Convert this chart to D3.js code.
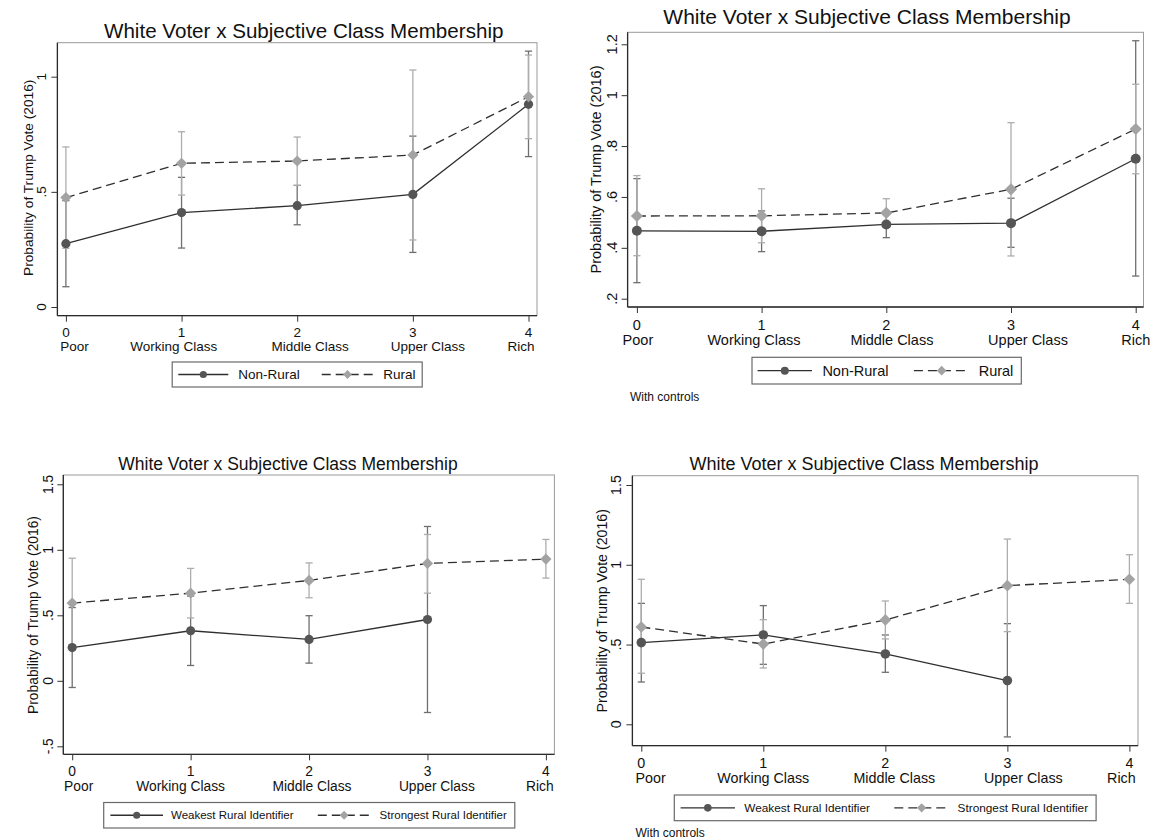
<!DOCTYPE html>
<html>
<head>
<meta charset="utf-8">
<script src="https://cdn.jsdelivr.net/npm/d3@7"></script>
<style>
  html, body { margin: 0; padding: 0; background: #fff; }
  svg { display: block; }
  text { font-family: "Liberation Sans", Arial, Helvetica, sans-serif; fill: #111; }
</style>
</head>
<body>
<svg id="chart" width="1155" height="840"></svg>
<script>
// ---- categories ----
const classCodes = [0, 1, 2, 3, 4];
const classNames = ["Poor", "Working Class", "Middle Class", "Upper Class", "Rich"];
const chartTitle = "White Voter x Subjective Class Membership";
const yAxisTitle = "Probability of Trump Vote (2016)";

// ---- panel 1: rural vs non-rural, no controls ----
const p1NonRural   = [0.275, 0.410, 0.440, 0.489, 0.880];
const p1NonRuralLo = [0.088, 0.256, 0.357, 0.237, 0.653];
const p1NonRuralHi = [0.462, 0.563, 0.528, 0.742, 1.111];
const p1Rural      = [0.475, 0.624, 0.634, 0.660, 0.913];
const p1RuralLo    = [0.255, 0.486, 0.528, 0.291, 0.731];
const p1RuralHi    = [0.695, 0.761, 0.738, 1.029, 1.094];
const p1YTicks = [0, 0.5, 1];

// ---- panel 2: rural vs non-rural, with controls ----
const p2NonRural   = [0.467, 0.465, 0.492, 0.497, 0.750];
const p2NonRuralLo = [0.263, 0.385, 0.440, 0.402, 0.289];
const p2NonRuralHi = [0.672, 0.545, 0.544, 0.595, 1.214];
const p2Rural      = [0.525, 0.526, 0.537, 0.630, 0.867];
const p2RuralLo    = [0.369, 0.420, 0.481, 0.368, 0.691];
const p2RuralHi    = [0.684, 0.632, 0.593, 0.892, 1.043];
const p2YTicks = [0.2, 0.4, 0.6, 0.8, 1, 1.2];

// ---- panel 3: rural identity strength, no controls ----
const p3Weakest     = [0.254, 0.382, 0.316, 0.468, null];
const p3WeakestLo   = [-0.051, 0.117, 0.135, -0.242, null];
const p3WeakestHi   = [0.559, 0.647, 0.497, 1.178, null];
const p3Strongest   = [0.593, 0.669, 0.766, 0.896, 0.929];
const p3StrongestLo = [0.250, 0.480, 0.634, 0.669, 0.784];
const p3StrongestHi = [0.936, 0.858, 0.900, 1.117, 1.079];
const p3YTicks = [-0.5, 0, 0.5, 1, 1.5];

// ---- panel 4: rural identity strength, with controls ----
const p4Weakest     = [0.512, 0.560, 0.441, 0.274, null];
const p4WeakestLo   = [0.265, 0.376, 0.326, -0.079, null];
const p4WeakestHi   = [0.758, 0.744, 0.560, 0.631, null];
const p4Strongest   = [0.610, 0.503, 0.654, 0.869, 0.909];
const p4StrongestLo = [0.320, 0.353, 0.535, 0.581, 0.758];
const p4StrongestHi = [0.909, 0.656, 0.773, 1.161, 1.063];
const p4YTicks = [0, 0.5, 1, 1.5];

// ---- series styling ----
const darkStyle  = { ci: "#6f6f6f", line: "#2f2f2f", marker: "#555555", shape: "circle", dash: null };
const lightStyle = { ci: "#adadad", line: "#2f2f2f", marker: "#a3a3a3", shape: "diamond", dash: "9,5" };

const svg = d3.select("#chart");

// Stata-style tick formatting: plain hyphen minus, no leading zero (".5", "-.5")
const fmtTick = v => {
  const s = String(+v.toFixed(3));
  return s.replace(/^0\./, ".").replace(/^-0\./, "-.");
};

function series(vals, lo, hi) {
  return classCodes.map((c, i) => ({ c, v: vals[i], lo: lo[i], hi: hi[i] }))
                   .filter(d => d.v !== null);
}

function drawMarker(g, shape, cx, cy, size, fill) {
  if (shape === "circle") {
    g.append("circle").attr("cx", cx).attr("cy", cy).attr("r", size).attr("fill", fill);
  } else {
    const s = size * 1.22;
    g.append("path")
      .attr("d", `M${cx},${cy - s}L${cx + s},${cy}L${cx},${cy + s}L${cx - s},${cy}Z`)
      .attr("fill", fill);
  }
}

function drawPanel(p) {
  const g = svg.append("g");
  const x = d3.scaleLinear().domain([0, 4]).range(p.xRange);
  const y = d3.scaleLinear().domain(p.yRef).range(p.yRefPx);

  // plot-region border
  g.append("rect")
    .attr("x", p.frame[0]).attr("y", p.frame[2])
    .attr("width", p.frame[1] - p.frame[0]).attr("height", p.frame[3] - p.frame[2])
    .attr("fill", "none").attr("stroke", "#9a9a9a").attr("stroke-width", 1);

  // y axis
  const yAxis = d3.axisLeft(y).tickValues(p.yTicks).tickSize(6).tickFormat("");
  const ya = g.append("g").attr("transform", `translate(${p.frame[0]},0)`).call(yAxis);
  ya.select(".domain").attr("d", `M0,${p.frame[2]}V${p.frame[3]}`).attr("stroke", "#2a2a2a").attr("stroke-width", 1.3);
  ya.selectAll(".tick line").attr("stroke", "#333").attr("stroke-width", 1);
  g.selectAll(".ytl").data(p.yTicks).enter().append("text")
    .attr("transform", d => `translate(${p.yLabelX},${y(d)}) rotate(-90)`)
    .attr("text-anchor", "middle")
    .attr("font-size", p.tickFont)
    .text(fmtTick);

  // x axis
  const xAxis = d3.axisBottom(x).tickValues(classCodes).tickSize(6).tickFormat("");
  const xa = g.append("g").attr("transform", `translate(0,${p.frame[3]})`).call(xAxis);
  xa.select(".domain").attr("d", `M${p.frame[0]},0H${p.frame[1]}`).attr("stroke", "#2a2a2a").attr("stroke-width", 1.3);
  xa.selectAll(".tick line").attr("stroke", "#333").attr("stroke-width", 1);
  classCodes.forEach((c, i) => {
    g.append("text").attr("x", x(c)).attr("y", p.numBase)
      .attr("text-anchor", "middle").attr("font-size", p.tickFont).text(c);
    g.append("text").attr("x", x(c) + p.nameShift[i]).attr("y", p.nameBase)
      .attr("text-anchor", "middle").attr("font-size", p.tickFont).text(classNames[i]);
  });

  // titles
  g.append("text").attr("x", p.title[0]).attr("y", p.title[1])
    .attr("text-anchor", "middle").attr("font-size", p.title[2]).text(chartTitle);
  g.append("text")
    .attr("transform", `translate(${p.yTitle[0]},${p.yTitle[1]}) rotate(-90)`)
    .attr("text-anchor", "middle").attr("font-size", p.yTitle[2]).text(yAxisTitle);

  // confidence intervals (capped spikes)
  const capW = 3.6;
  p.series.forEach(s => {
    s.data.forEach(d => {
      const cg = g.append("g").attr("stroke", s.style.ci).attr("stroke-width", 1.3);
      cg.append("line").attr("x1", x(d.c)).attr("x2", x(d.c)).attr("y1", y(d.lo)).attr("y2", y(d.hi));
      cg.append("line").attr("x1", x(d.c) - capW).attr("x2", x(d.c) + capW).attr("y1", y(d.lo)).attr("y2", y(d.lo));
      cg.append("line").attr("x1", x(d.c) - capW).attr("x2", x(d.c) + capW).attr("y1", y(d.hi)).attr("y2", y(d.hi));
    });
  });

  // connecting lines
  const line = d3.line().x(d => x(d.c)).y(d => y(d.v));
  p.series.forEach(s => {
    g.append("path").datum(s.data).attr("d", line)
      .attr("fill", "none").attr("stroke", s.style.line).attr("stroke-width", 1.3)
      .attr("stroke-dasharray", s.style.dash);
  });

  // point markers
  p.series.forEach(s => {
    s.data.forEach(d => drawMarker(g, s.style.shape, x(d.c), y(d.v), p.markerR, s.style.marker));
  });

  // legend
  const L = p.legend;
  g.append("rect").attr("x", L.box[0]).attr("y", L.box[2])
    .attr("width", L.box[1] - L.box[0]).attr("height", L.box[3] - L.box[2])
    .attr("fill", "#fff").attr("stroke", "#6a6a6a").attr("stroke-width", 1.2);
  const midY = (L.box[2] + L.box[3]) / 2;
  p.series.forEach((s, i) => {
    const it = L.items[i];
    g.append("line").attr("x1", it[0]).attr("x2", it[1]).attr("y1", midY).attr("y2", midY)
      .attr("stroke", s.style.line).attr("stroke-width", 1.3).attr("stroke-dasharray", s.style.dash);
    drawMarker(g, s.style.shape, (it[0] + it[1]) / 2, midY, L.markerR, s.style.marker);
    g.append("text").attr("x", it[2]).attr("y", L.base).attr("font-size", L.font).text(s.name);
  });

  if (p.note) {
    g.append("text").attr("x", p.note[0]).attr("y", p.note[1])
      .attr("font-size", p.note[2]).attr("fill", "#222").text("With controls");
  }
}

const panels = [
  {
    frame: [57.4, 537, 42.7, 315.7], xRange: [65.9, 528.5],
    yRef: [0, 1], yRefPx: [307, 76.7], yTicks: p1YTicks, yLabelX: 45.5,
    tickFont: 13.5, numBase: 336.7, nameBase: 350.7, nameShift: [8.7, -7.8, 13, 15, -7.5],
    title: [303.7, 37.8, 20.6], yTitle: [32.5, 177.8, 13.7], markerR: 4.6,
    series: [
      { name: "Non-Rural", style: darkStyle, data: series(p1NonRural, p1NonRuralLo, p1NonRuralHi) },
      { name: "Rural", style: lightStyle, data: series(p1Rural, p1RuralLo, p1RuralHi) }
    ],
    legend: { box: [172.2, 422.2, 362, 387], items: [[178.3, 228.3, 238.3], [321.7, 373.3, 383.3]],
              base: 379.3, font: 13.5, markerR: 3.6 }
  },
  {
    frame: [627.6, 1143.5, 32.3, 307], xRange: [636.9, 1135.7],
    yRef: [0.2, 1.2], yRefPx: [298.7, 44.3], yTicks: p2YTicks, yLabelX: 617,
    tickFont: 14.5, numBase: 330, nameBase: 345, nameShift: [1, -7.6, 5.6, 17, 0],
    title: [867, 23.5, 21], yTitle: [601, 169.5, 14.5], markerR: 5,
    series: [
      { name: "Non-Rural", style: darkStyle, data: series(p2NonRural, p2NonRuralLo, p2NonRuralHi) },
      { name: "Rural", style: lightStyle, data: series(p2Rural, p2RuralLo, p2RuralHi) }
    ],
    legend: { box: [752, 1021.3, 357.3, 384], items: [[757.6, 812, 822.4], [913.9, 969.4, 978.7]],
              base: 376, font: 14.5, markerR: 4 },
    note: [630, 401, 12]
  },
  {
    frame: [63.3, 554.4, 475, 754.3], xRange: [72.2, 545.9],
    yRef: [-0.5, 1.5], yRefPx: [746.3, 484.3], yTicks: p3YTicks, yLabelX: 53,
    tickFont: 13.8, numBase: 776, nameBase: 790.7, nameShift: [6.5, -10, 3, 9.4, -6],
    title: [288, 469.6, 17.5], yTitle: [37.8, 615, 13.8], markerR: 4.6,
    series: [
      { name: "Weakest Rural Identifier", style: darkStyle, data: series(p3Weakest, p3WeakestLo, p3WeakestHi) },
      { name: "Strongest Rural Identifier", style: lightStyle, data: series(p3Strongest, p3StrongestLo, p3StrongestHi) }
    ],
    legend: { box: [103.7, 514.8, 802.5, 828], items: [[110.4, 163, 171], [317.8, 370.4, 379.6]],
              base: 819.2, font: 11.5, markerR: 3.6 }
  },
  {
    frame: [632.4, 1138, 475.7, 745.7], xRange: [641.3, 1129.4],
    yRef: [0, 1.5], yRefPx: [724.3, 485], yTicks: p4YTicks, yLabelX: 621.3,
    tickFont: 14.3, numBase: 768.3, nameBase: 783.3, nameShift: [9.3, 0, 9, 16, -8],
    title: [864, 470, 18], yTitle: [607, 610.8, 14.2], markerR: 4.8,
    series: [
      { name: "Weakest Rural Identifier", style: darkStyle, data: series(p4Weakest, p4WeakestLo, p4WeakestHi) },
      { name: "Strongest Rural Identifier", style: lightStyle, data: series(p4Strongest, p4StrongestLo, p4StrongestHi) }
    ],
    legend: { box: [674.3, 1096.1, 795, 820.7], items: [[680.6, 735, 744.3], [894.3, 949, 957.6]],
              base: 812, font: 11.8, markerR: 3.8 },
    note: [635.4, 837, 12]
  }
];

panels.forEach(drawPanel);
</script>
</body>
</html>
